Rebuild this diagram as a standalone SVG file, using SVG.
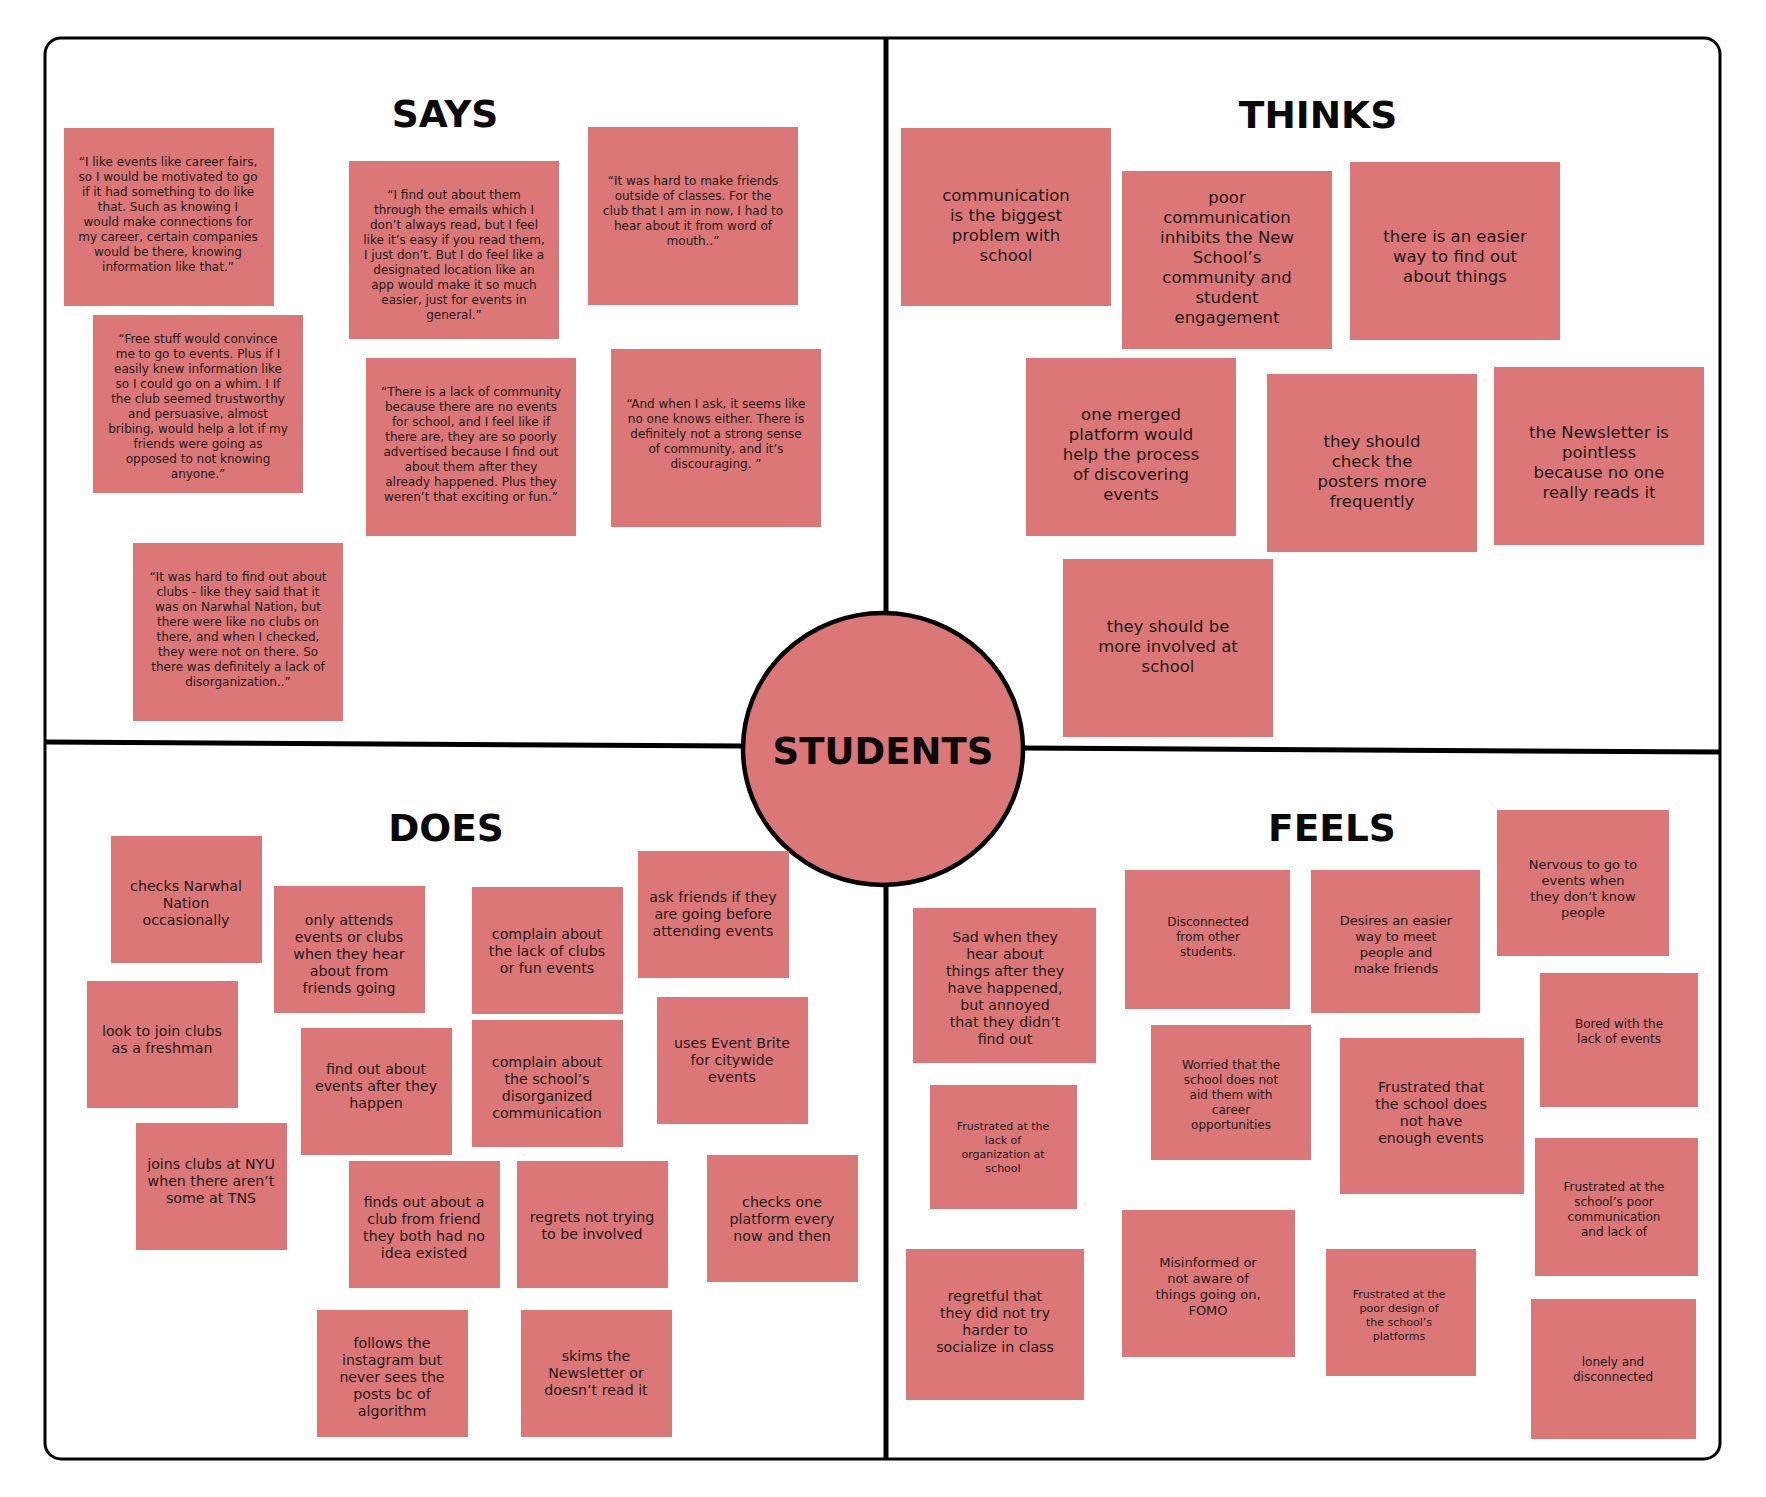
<svg xmlns="http://www.w3.org/2000/svg" width="1766" height="1497" viewBox="0 0 1766 1497">
<style>
.note{fill:#DB7777}
.t{font-family:"DejaVu Sans","Liberation Sans",sans-serif;fill:#231a1a;text-anchor:middle}
.f11{font-size:11px}.f12{font-size:12px}.f13{font-size:13px}.f14{font-size:14.2px}.f16{font-size:16.5px}
.h{font-family:"DejaVu Sans","Liberation Sans",sans-serif;font-weight:bold;font-size:37.5px;fill:#0a0a0a;text-anchor:middle}
.div{stroke:#000;stroke-width:5;fill:none}
</style>
<rect x="0" y="0" width="1766" height="1497" fill="#fff"/>
<g id="frame">
<rect x="45" y="38" width="1675" height="1421" rx="16" ry="16" fill="#fff" stroke="#000" stroke-width="3"/>
</g>
<g id="connectors">
<line class="div" x1="886" y1="38" x2="886" y2="614"/>
<line class="div" x1="886" y1="884" x2="886" y2="1459"/>
<line class="div" x1="45" y1="742" x2="744" y2="746"/>
<line class="div" x1="1022" y1="748" x2="1720" y2="752"/>
</g>
<g id="headers">
<text class="h" x="445" y="127">SAYS</text>
<text class="h" x="1318" y="128">THINKS</text>
<text class="h" x="446" y="841">DOES</text>
<text class="h" x="1332" y="841">FEELS</text>
</g>
<g id="center">
<ellipse cx="883" cy="749" rx="140" ry="136" fill="#DB7777" stroke="#000" stroke-width="4.5"/>
<text class="h" style="font-size:37px" x="883" y="764">STUDENTS</text>
</g>
<g id="says-1"><rect class="note" x="64" y="128" width="210" height="178"/>
<text class="t f12"><tspan x="168" y="166">“I like events like career fairs,</tspan><tspan x="168" y="181">so I would be motivated to go</tspan><tspan x="168" y="196">if it had something to do like</tspan><tspan x="168" y="211">that. Such as knowing I</tspan><tspan x="168" y="226">would make connections for</tspan><tspan x="168" y="241">my career, certain companies</tspan><tspan x="168" y="256">would be there, knowing</tspan><tspan x="168" y="271">information like that.”</tspan></text></g>
<g id="says-2"><rect class="note" x="93" y="315" width="210" height="178"/>
<text class="t f12"><tspan x="198" y="343">“Free stuff would convince</tspan><tspan x="198" y="358">me to go to events. Plus if I</tspan><tspan x="198" y="373">easily knew information like</tspan><tspan x="198" y="388">so I could go on a whim. I If</tspan><tspan x="198" y="403">the club seemed trustworthy</tspan><tspan x="198" y="418">and persuasive, almost</tspan><tspan x="198" y="433">bribing, would help a lot if my</tspan><tspan x="198" y="448">friends were going as</tspan><tspan x="198" y="463">opposed to not knowing</tspan><tspan x="198" y="478">anyone.”</tspan></text></g>
<g id="says-3"><rect class="note" x="349" y="161" width="210" height="178"/>
<text class="t f12"><tspan x="454" y="199">“I find out about them</tspan><tspan x="454" y="214">through the emails which I</tspan><tspan x="454" y="229">don’t always read, but I feel</tspan><tspan x="454" y="244">like it’s easy if you read them,</tspan><tspan x="454" y="259">I just don’t. But I do feel like a</tspan><tspan x="454" y="274">designated location like an</tspan><tspan x="454" y="289">app would make it so much</tspan><tspan x="454" y="304">easier, just for events in</tspan><tspan x="454" y="319">general.”</tspan></text></g>
<g id="says-4"><rect class="note" x="366" y="358" width="210" height="178"/>
<text class="t f12"><tspan x="471" y="396">“There is a lack of community</tspan><tspan x="471" y="411">because there are no events</tspan><tspan x="471" y="426">for school, and I feel like if</tspan><tspan x="471" y="441">there are, they are so poorly</tspan><tspan x="471" y="456">advertised because I find out</tspan><tspan x="471" y="471">about them after they</tspan><tspan x="471" y="486">already happened. Plus they</tspan><tspan x="471" y="501">weren’t that exciting or fun.”</tspan></text></g>
<g id="says-5"><rect class="note" x="588" y="127" width="210" height="178"/>
<text class="t f12"><tspan x="693" y="185">“It was hard to make friends</tspan><tspan x="693" y="200">outside of classes. For the</tspan><tspan x="693" y="215">club that I am in now, I had to</tspan><tspan x="693" y="230">hear about it from word of</tspan><tspan x="693" y="245">mouth..”</tspan></text></g>
<g id="says-6"><rect class="note" x="611" y="349" width="210" height="178"/>
<text class="t f12"><tspan x="716" y="408">“And when I ask, it seems like</tspan><tspan x="716" y="423">no one knows either. There is</tspan><tspan x="716" y="438">definitely not a strong sense</tspan><tspan x="716" y="453">of community, and it’s</tspan><tspan x="716" y="468">discouraging. ”</tspan></text></g>
<g id="says-7"><rect class="note" x="133" y="543" width="210" height="178"/>
<text class="t f12"><tspan x="238" y="581">“It was hard to find out about</tspan><tspan x="238" y="596">clubs - like they said that it</tspan><tspan x="238" y="611">was on Narwhal Nation, but</tspan><tspan x="238" y="626">there were like no clubs on</tspan><tspan x="238" y="641">there, and when I checked,</tspan><tspan x="238" y="656">they were not on there. So</tspan><tspan x="238" y="671">there was definitely a lack of</tspan><tspan x="238" y="686">disorganization..”</tspan></text></g>
<g id="thinks-1"><rect class="note" x="901" y="128" width="210" height="178"/>
<text class="t f16"><tspan x="1006" y="201">communication</tspan><tspan x="1006" y="221">is the biggest</tspan><tspan x="1006" y="241">problem with</tspan><tspan x="1006" y="261">school</tspan></text></g>
<g id="thinks-2"><rect class="note" x="1122" y="171" width="210" height="178"/>
<text class="t f16"><tspan x="1227" y="203">poor</tspan><tspan x="1227" y="223">communication</tspan><tspan x="1227" y="243">inhibits the New</tspan><tspan x="1227" y="263">School’s</tspan><tspan x="1227" y="283">community and</tspan><tspan x="1227" y="303">student</tspan><tspan x="1227" y="323">engagement</tspan></text></g>
<g id="thinks-3"><rect class="note" x="1350" y="162" width="210" height="178"/>
<text class="t f16"><tspan x="1455" y="242">there is an easier</tspan><tspan x="1455" y="262">way to find out</tspan><tspan x="1455" y="282">about things</tspan></text></g>
<g id="thinks-4"><rect class="note" x="1026" y="358" width="210" height="178"/>
<text class="t f16"><tspan x="1131" y="420">one merged</tspan><tspan x="1131" y="440">platform would</tspan><tspan x="1131" y="460">help the process</tspan><tspan x="1131" y="480">of discovering</tspan><tspan x="1131" y="500">events</tspan></text></g>
<g id="thinks-5"><rect class="note" x="1267" y="374" width="210" height="178"/>
<text class="t f16"><tspan x="1372" y="447">they should</tspan><tspan x="1372" y="467">check the</tspan><tspan x="1372" y="487">posters more</tspan><tspan x="1372" y="507">frequently</tspan></text></g>
<g id="thinks-6"><rect class="note" x="1494" y="367" width="210" height="178"/>
<text class="t f16"><tspan x="1599" y="438">the Newsletter is</tspan><tspan x="1599" y="458">pointless</tspan><tspan x="1599" y="478">because no one</tspan><tspan x="1599" y="498">really reads it</tspan></text></g>
<g id="thinks-7"><rect class="note" x="1063" y="559" width="210" height="178"/>
<text class="t f16"><tspan x="1168" y="632">they should be</tspan><tspan x="1168" y="652">more involved at</tspan><tspan x="1168" y="672">school</tspan></text></g>
<g id="does-1"><rect class="note" x="111" y="836" width="151" height="127"/>
<text class="t f14"><tspan x="186" y="891">checks Narwhal</tspan><tspan x="186" y="908">Nation</tspan><tspan x="186" y="925">occasionally</tspan></text></g>
<g id="does-2"><rect class="note" x="274" y="886" width="151" height="127"/>
<text class="t f14"><tspan x="349" y="925">only attends</tspan><tspan x="349" y="942">events or clubs</tspan><tspan x="349" y="959">when they hear</tspan><tspan x="349" y="976">about from</tspan><tspan x="349" y="993">friends going</tspan></text></g>
<g id="does-3"><rect class="note" x="472" y="887" width="151" height="127"/>
<text class="t f14"><tspan x="547" y="939">complain about</tspan><tspan x="547" y="956">the lack of clubs</tspan><tspan x="547" y="973">or fun events</tspan></text></g>
<g id="does-4"><rect class="note" x="638" y="851" width="151" height="127"/>
<text class="t f14"><tspan x="713" y="902">ask friends if they</tspan><tspan x="713" y="919">are going before</tspan><tspan x="713" y="936">attending events</tspan></text></g>
<g id="does-5"><rect class="note" x="87" y="981" width="151" height="127"/>
<text class="t f14"><tspan x="162" y="1036">look to join clubs</tspan><tspan x="162" y="1053">as a freshman</tspan></text></g>
<g id="does-6"><rect class="note" x="301" y="1028" width="151" height="127"/>
<text class="t f14"><tspan x="376" y="1074">find out about</tspan><tspan x="376" y="1091">events after they</tspan><tspan x="376" y="1108">happen</tspan></text></g>
<g id="does-7"><rect class="note" x="472" y="1020" width="151" height="127"/>
<text class="t f14"><tspan x="547" y="1067">complain about</tspan><tspan x="547" y="1084">the school’s</tspan><tspan x="547" y="1101">disorganized</tspan><tspan x="547" y="1118">communication</tspan></text></g>
<g id="does-8"><rect class="note" x="657" y="997" width="151" height="127"/>
<text class="t f14"><tspan x="732" y="1048">uses Event Brite</tspan><tspan x="732" y="1065">for citywide</tspan><tspan x="732" y="1082">events</tspan></text></g>
<g id="does-9"><rect class="note" x="136" y="1123" width="151" height="127"/>
<text class="t f14"><tspan x="211" y="1169">joins clubs at NYU</tspan><tspan x="211" y="1186">when there aren’t</tspan><tspan x="211" y="1203">some at TNS</tspan></text></g>
<g id="does-10"><rect class="note" x="349" y="1161" width="151" height="127"/>
<text class="t f14"><tspan x="424" y="1207">finds out about a</tspan><tspan x="424" y="1224">club from friend</tspan><tspan x="424" y="1241">they both had no</tspan><tspan x="424" y="1258">idea existed</tspan></text></g>
<g id="does-11"><rect class="note" x="517" y="1161" width="151" height="127"/>
<text class="t f14"><tspan x="592" y="1222">regrets not trying</tspan><tspan x="592" y="1239">to be involved</tspan></text></g>
<g id="does-12"><rect class="note" x="707" y="1155" width="151" height="127"/>
<text class="t f14"><tspan x="782" y="1207">checks one</tspan><tspan x="782" y="1224">platform every</tspan><tspan x="782" y="1241">now and then</tspan></text></g>
<g id="does-13"><rect class="note" x="317" y="1310" width="151" height="127"/>
<text class="t f14"><tspan x="392" y="1348">follows the</tspan><tspan x="392" y="1365">instagram but</tspan><tspan x="392" y="1382">never sees the</tspan><tspan x="392" y="1399">posts bc of</tspan><tspan x="392" y="1416">algorithm</tspan></text></g>
<g id="does-14"><rect class="note" x="521" y="1310" width="151" height="127"/>
<text class="t f14"><tspan x="596" y="1361">skims the</tspan><tspan x="596" y="1378">Newsletter or</tspan><tspan x="596" y="1395">doesn’t read it</tspan></text></g>
<g id="feels-1"><rect class="note" x="913" y="908" width="183" height="155"/>
<text class="t f14"><tspan x="1005" y="942">Sad when they</tspan><tspan x="1005" y="959">hear about</tspan><tspan x="1005" y="976">things after they</tspan><tspan x="1005" y="993">have happened,</tspan><tspan x="1005" y="1010">but annoyed</tspan><tspan x="1005" y="1027">that they didn’t</tspan><tspan x="1005" y="1044">find out</tspan></text></g>
<g id="feels-2"><rect class="note" x="1125" y="870" width="165" height="139"/>
<text class="t f12"><tspan x="1208" y="926">Disconnected</tspan><tspan x="1208" y="941">from other</tspan><tspan x="1208" y="956">students.</tspan></text></g>
<g id="feels-3"><rect class="note" x="1311" y="870" width="169" height="143"/>
<text class="t f13"><tspan x="1396" y="925">Desires an easier</tspan><tspan x="1396" y="941">way to meet</tspan><tspan x="1396" y="957">people and</tspan><tspan x="1396" y="973">make friends</tspan></text></g>
<g id="feels-4"><rect class="note" x="1497" y="810" width="172" height="146"/>
<text class="t f13"><tspan x="1583" y="869">Nervous to go to</tspan><tspan x="1583" y="885">events when</tspan><tspan x="1583" y="901">they don’t know</tspan><tspan x="1583" y="917">people</tspan></text></g>
<g id="feels-5"><rect class="note" x="1540" y="973" width="158" height="134"/>
<text class="t f12"><tspan x="1619" y="1028">Bored with the</tspan><tspan x="1619" y="1043">lack of events</tspan></text></g>
<g id="feels-6"><rect class="note" x="1151" y="1025" width="160" height="135"/>
<text class="t f12"><tspan x="1231" y="1069">Worried that the</tspan><tspan x="1231" y="1084">school does not</tspan><tspan x="1231" y="1099">aid them with</tspan><tspan x="1231" y="1114">career</tspan><tspan x="1231" y="1129">opportunities</tspan></text></g>
<g id="feels-7"><rect class="note" x="1340" y="1038" width="184" height="156"/>
<text class="t f14"><tspan x="1431" y="1092">Frustrated that</tspan><tspan x="1431" y="1109">the school does</tspan><tspan x="1431" y="1126">not have</tspan><tspan x="1431" y="1143">enough events</tspan></text></g>
<g id="feels-8"><rect class="note" x="930" y="1085" width="147" height="124"/>
<text class="t f11"><tspan x="1003" y="1130">Frustrated at the</tspan><tspan x="1003" y="1144">lack of</tspan><tspan x="1003" y="1158">organization at</tspan><tspan x="1003" y="1172">school</tspan></text></g>
<g id="feels-9"><rect class="note" x="1535" y="1138" width="163" height="138"/>
<text class="t f12"><tspan x="1614" y="1191">Frustrated at the</tspan><tspan x="1614" y="1206">school’s poor</tspan><tspan x="1614" y="1221">communication</tspan><tspan x="1614" y="1236">and lack of</tspan></text></g>
<g id="feels-10"><rect class="note" x="906" y="1249" width="178" height="151"/>
<text class="t f14"><tspan x="995" y="1301">regretful that</tspan><tspan x="995" y="1318">they did not try</tspan><tspan x="995" y="1335">harder to</tspan><tspan x="995" y="1352">socialize in class</tspan></text></g>
<g id="feels-11"><rect class="note" x="1122" y="1210" width="173" height="147"/>
<text class="t f13"><tspan x="1208" y="1267">Misinformed or</tspan><tspan x="1208" y="1283">not aware of</tspan><tspan x="1208" y="1299">things going on,</tspan><tspan x="1208" y="1315">FOMO</tspan></text></g>
<g id="feels-12"><rect class="note" x="1326" y="1249" width="150" height="127"/>
<text class="t f11"><tspan x="1399" y="1298">Frustrated at the</tspan><tspan x="1399" y="1312">poor design of</tspan><tspan x="1399" y="1326">the school’s</tspan><tspan x="1399" y="1340">platforms</tspan></text></g>
<g id="feels-13"><rect class="note" x="1531" y="1299" width="165" height="140"/>
<text class="t f12"><tspan x="1613" y="1366">lonely and</tspan><tspan x="1613" y="1381">disconnected</tspan></text></g>
</svg>
